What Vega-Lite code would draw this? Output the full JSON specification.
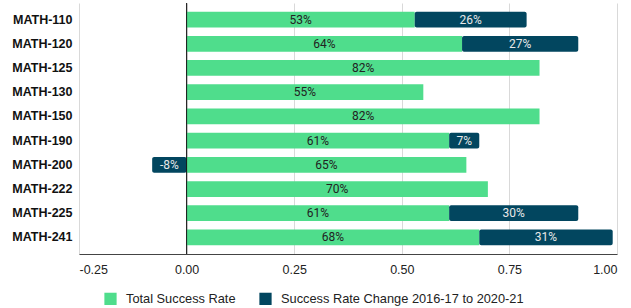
{
  "$schema": "https://vega.github.io/schema/vega-lite/v6.json",
  "width": 538,
  "height": 251,
  "autosize": {"type": "none"},
  "padding": {"left": 79, "top": 3, "right": 14, "bottom": 54},
  "config": {
    "view": {"stroke": null},
    "font": "Liberation Sans",
    "locale": {"number": {"decimal": ".", "thousands": ",", "grouping": [3], "currency": ["$", ""], "minus": "-"}}
  },
  "data": {
    "values": [
      {"course": "MATH-110", "series": "Total Success Rate", "order": 1, "value": 0.53},
      {"course": "MATH-110", "series": "Success Rate Change 2016-17 to 2020-21", "order": 2, "value": 0.26},
      {"course": "MATH-120", "series": "Total Success Rate", "order": 1, "value": 0.64},
      {"course": "MATH-120", "series": "Success Rate Change 2016-17 to 2020-21", "order": 2, "value": 0.27},
      {"course": "MATH-125", "series": "Total Success Rate", "order": 1, "value": 0.82},
      {"course": "MATH-130", "series": "Total Success Rate", "order": 1, "value": 0.55},
      {"course": "MATH-150", "series": "Total Success Rate", "order": 1, "value": 0.82},
      {"course": "MATH-190", "series": "Total Success Rate", "order": 1, "value": 0.61},
      {"course": "MATH-190", "series": "Success Rate Change 2016-17 to 2020-21", "order": 2, "value": 0.07},
      {"course": "MATH-200", "series": "Total Success Rate", "order": 1, "value": 0.65},
      {"course": "MATH-200", "series": "Success Rate Change 2016-17 to 2020-21", "order": 2, "value": -0.08},
      {"course": "MATH-222", "series": "Total Success Rate", "order": 1, "value": 0.70},
      {"course": "MATH-225", "series": "Total Success Rate", "order": 1, "value": 0.61},
      {"course": "MATH-225", "series": "Success Rate Change 2016-17 to 2020-21", "order": 2, "value": 0.30},
      {"course": "MATH-241", "series": "Total Success Rate", "order": 1, "value": 0.68},
      {"course": "MATH-241", "series": "Success Rate Change 2016-17 to 2020-21", "order": 2, "value": 0.31}
    ]
  },
  "transform": [
    {"stack": "value", "groupby": ["course"], "sort": [{"field": "order", "order": "ascending"}], "offset": "zero", "as": ["x0", "x1"]},
    {"calculate": "(datum.x0 + datum.x1) / 2", "as": "mid"}
  ],
  "layer": [
    {
      "transform": [{"filter": "datum.order == 1"}],
      "mark": {"type": "bar"},
      "encoding": {
        "y": {"field": "course", "type": "nominal", "sort": null,
          "scale": {"paddingInner": 0.35, "paddingOuter": 0.36},
          "axis": {"title": null, "ticks": false, "domain": false, "labelFontWeight": "bold", "labelFontSize": 12.5, "labelColor": "#111", "labelPadding": 7}},
        "x": {"field": "x0", "type": "quantitative",
          "scale": {"domain": [-0.25, 1], "nice": false},
          "axis": {"title": null, "values": [-0.25, 0, 0.25, 0.5, 0.75, 1], "format": ".2f", "grid": true, "gridColor": "#d9d9d9", "domainColor": "#444", "ticks": false, "labelFontSize": 12.5, "labelColor": "#222", "labelPadding": 9}},
        "x2": {"field": "x1"},
        "color": {"field": "series", "type": "nominal",
          "scale": {"domain": ["Total Success Rate", "Success Rate Change 2016-17 to 2020-21"], "range": ["#4fdd8c", "#02465f"]},
          "legend": {"title": null, "orient": "none", "direction": "horizontal", "legendX": 25, "legendY": 289, "symbolType": "square", "symbolSize": 150, "symbolStrokeWidth": 0, "labelFontSize": 12.8, "labelColor": "#222", "labelOffset": 9, "labelLimit": 400, "columnPadding": 23}}
      }
    },
    {
      "transform": [{"filter": "datum.order == 2"}],
      "mark": {"type": "bar", "cornerRadius": 2},
      "encoding": {
        "y": {"field": "course", "type": "nominal", "sort": null},
        "x": {"field": "x0", "type": "quantitative"},
        "x2": {"field": "x1"},
        "color": {"field": "series", "type": "nominal"}
      }
    },
    {
      "data": {"values": [{}]},
      "mark": {"type": "rule", "color": "#111", "strokeWidth": 1},
      "encoding": {"x": {"datum": 0}}
    },
    {
      "transform": [{"filter": "datum.order == 1"}],
      "mark": {"type": "text", "font": "Roboto", "fontSize": 12, "color": "#222"},
      "encoding": {
        "y": {"field": "course", "type": "nominal", "sort": null},
        "x": {"field": "mid", "type": "quantitative"},
        "text": {"field": "value", "type": "quantitative", "format": ".0%"}
      }
    },
    {
      "transform": [{"filter": "datum.order == 2"}],
      "mark": {"type": "text", "font": "Roboto", "fontSize": 12, "color": "#e8e8e8"},
      "encoding": {
        "y": {"field": "course", "type": "nominal", "sort": null},
        "x": {"field": "mid", "type": "quantitative"},
        "text": {"field": "value", "type": "quantitative", "format": ".0%"}
      }
    }
  ]
}
